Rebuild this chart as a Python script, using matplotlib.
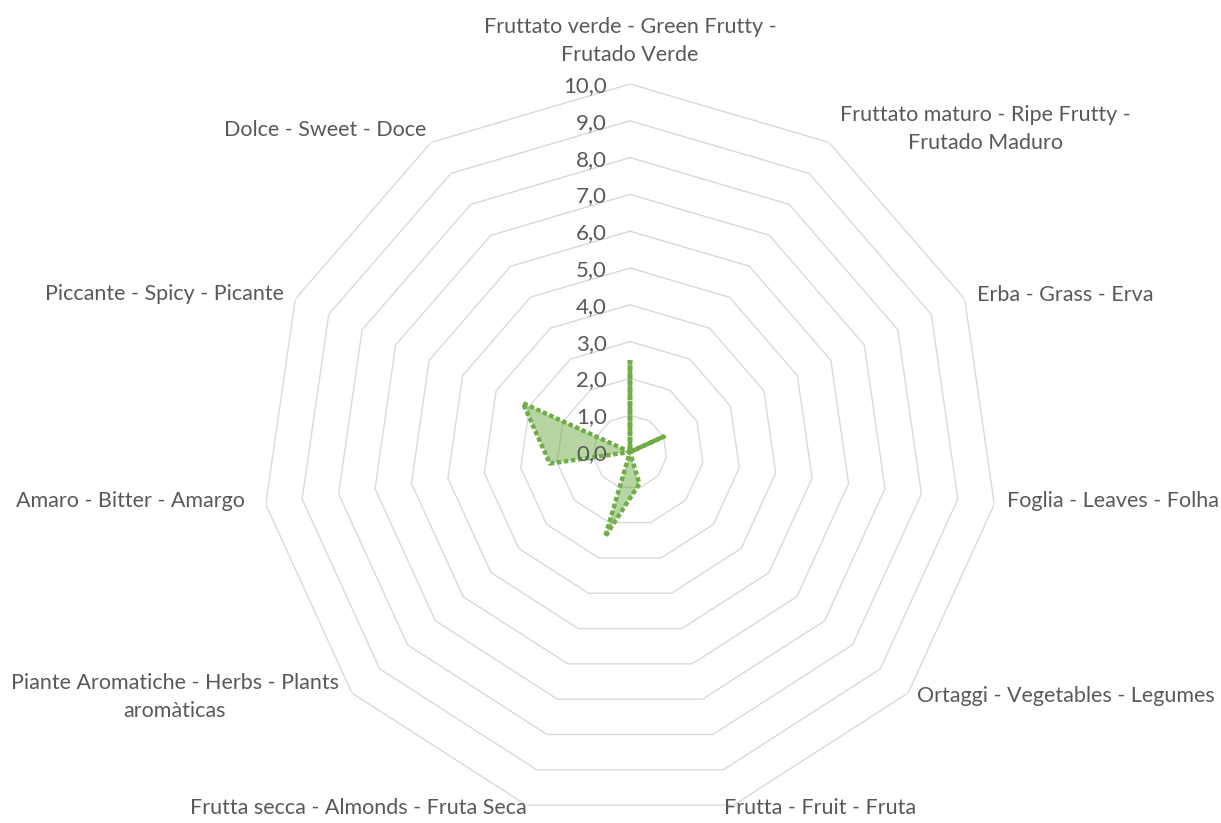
import numpy as np
import matplotlib
matplotlib.use("Agg")
import matplotlib.pyplot as plt

categories = [
    "Fruttato verde - Green Frutty -\nFrutado Verde",
    "Fruttato maturo - Ripe Frutty -\nFrutado Maduro",
    "Erba - Grass - Erva",
    "Foglia - Leaves - Folha",
    "Ortaggi - Vegetables - Legumes",
    "Frutta - Fruit - Fruta",
    "Frutta secca - Almonds - Fruta Seca",
    "Piante Aromatiche - Herbs - Plants\naromàticas",
    "Amaro - Bitter - Amargo",
    "Piccante - Spicy - Picante",
    "Dolce - Sweet - Doce",
]
values = [2.5, 0.0, 1.0, 0.0, 0.0, 0.9, 2.4, 0.0, 2.2, 3.2, 0.0]
ticks = [0, 1, 2, 3, 4, 5, 6, 7, 8, 9, 10]
tick_labels = ["0,0", "1,0", "2,0", "3,0", "4,0", "5,0", "6,0", "7,0", "8,0", "9,0", "10,0"]

W, H = 1221, 823
fig = plt.figure(figsize=(W / 100, H / 100), dpi=100)
plt.rcParams['font.family'] = ['Lato', 'DejaVu Sans']

cx, cy, R = 630, 452, 368
ax = fig.add_axes([(cx - R) / W, 1 - (cy + R) / H, 2 * R / W, 2 * R / H], projection='polar')
ax.set_theta_zero_location('N')
ax.set_theta_direction(-1)
ax.set_ylim(0, 10)
ax.grid(False)
ax.spines['polar'].set_visible(False)
ax.set_xticks([])
ax.set_yticks([])
ax.patch.set_alpha(0)

n = len(categories)
angles = np.arange(n) * 2 * np.pi / n
ang_closed = np.append(angles, angles[0])

for t in ticks[1:]:
    ax.plot(ang_closed, [t] * (n + 1), color='#D9D9D9', lw=1.0, zorder=1)

vals_closed = values + values[:1]
green = '#70AD47'
ax.fill(ang_closed, vals_closed, color=green, alpha=0.5, lw=0, zorder=2)
ax.plot(ang_closed, vals_closed, color=green, lw=3.2,
        linestyle=(0, (1, 0.6)), zorder=3)
# the vertical segment renders nearly solid in the original
ax.plot(angles[:2], values[:2], color=green, lw=3.2,
        linestyle=(0, (1, 0.15)), zorder=3)

tc = '#595959'
for t, lab in zip(ticks, tick_labels):
    ax.annotate(lab, xy=(0, t), xytext=(-16.5, -1.5), textcoords='offset points',
                ha='right', va='center', fontsize=16, color=tc, zorder=4)

# category label anchors (pixels) and alignment
label_pos = [
    (630, 41, 'center'),
    (985, 129, 'center'),
    (977, 295, 'left'),
    (1007, 501, 'left'),
    (917, 696, 'left'),
    (820, 808, 'center'),
    (358, 808, 'center'),
    (175, 697, 'center'),
    (245, 501, 'right'),
    (284, 294, 'right'),
    (426, 130, 'right'),
]
for lab, (x, y, ha) in zip(categories, label_pos):
    fig.text(x / W, 1 - y / H, lab, ha=ha, va='center', fontsize=15.5,
             color=tc, multialignment='center', linespacing=1.5)

fig.savefig('out.png', dpi=100)
